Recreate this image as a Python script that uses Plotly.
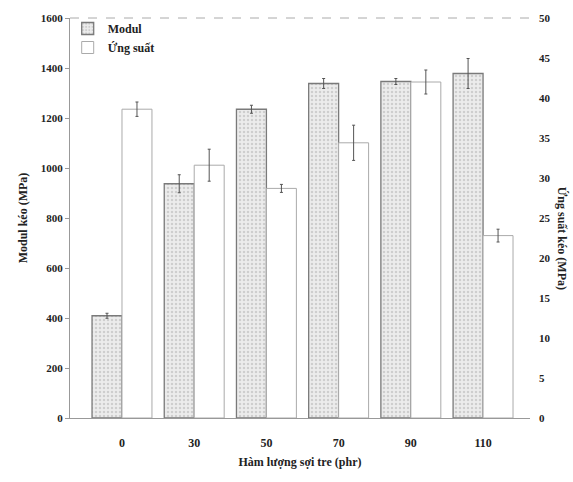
import plotly.graph_objects as go

categories = ["0", "30", "50", "70", "90", "110"]
modul = [409, 937, 1235, 1338, 1346, 1378]
modul_err = [10, 36, 16, 20, 12, 60]
ung_suat = [38.6, 31.6, 28.7, 34.4, 42.0, 22.8]
ung_suat_err = [0.9, 2.0, 0.5, 2.2, 1.5, 0.8]
left_ticks = [0, 200, 400, 600, 800, 1000, 1200, 1400, 1600]
right_ticks = [0, 5, 10, 15, 20, 25, 30, 35, 40, 45, 50]

FONT = "Liberation Serif"
BW = 0.415

fig = go.Figure()
fig.add_trace(go.Bar(
    x=categories, y=modul, name="Modul", yaxis="y",
    width=BW, offset=-BW,
    marker=dict(color="#ececec",
                pattern=dict(shape=".", fgcolor="#b0b0b0", bgcolor="#ececec", size=4, solidity=0.3),
                line=dict(color="#7a7a7a", width=1.3)),
    error_y=dict(type="data", array=modul_err, color="#555", thickness=1, width=1.5),
))
fig.add_trace(go.Bar(
    x=categories, y=ung_suat, name="Ứng suất", yaxis="y2",
    width=BW, offset=0,
    marker=dict(color="white", line=dict(color="#aaaaaa", width=1)),
    error_y=dict(type="data", array=ung_suat_err, color="#555", thickness=1, width=1.5),
))

fig.update_layout(
    width=573, height=482,
    margin=dict(l=70, r=43, t=15, b=64),
    plot_bgcolor="white", paper_bgcolor="white",
    font=dict(family=FONT, color="#222", size=11),
    showlegend=True,
    legend=dict(x=-0.005, y=1.01, xanchor="left", yanchor="top",
                bgcolor="rgba(0,0,0,0)",
                font=dict(family=FONT, size=12, color="#222", weight="bold"),
                tracegroupgap=2, itemwidth=30),
    xaxis=dict(type="category", range=[-0.72, 5.65], showline=True, linecolor="#999",
               linewidth=1, ticks="", ticklabelstandoff=14,
               tickfont=dict(family=FONT, size=12, color="#222", weight="bold"),
               title=dict(text="<b>Hàm lượng sợi tre (phr)</b>", standoff=8,
                          font=dict(family=FONT, size=12, color="#222"))),
    yaxis=dict(range=[0, 1600], tickvals=left_ticks, showgrid=False, zeroline=False,
               showline=True, linecolor="#999", linewidth=1, ticks="outside", ticklen=4,
               tickcolor="#999",
               tickfont=dict(family=FONT, size=11, color="#222", weight="bold"),
               title=dict(text="<b>Modul kéo (MPa)</b>", standoff=10,
                          font=dict(family=FONT, size=12, color="#222"))),
    yaxis2=dict(range=[0, 50], tickvals=right_ticks, overlaying="y", side="right",
                showgrid=False, zeroline=False, showline=False, ticks="",
                ticklabelstandoff=8,
                tickfont=dict(family=FONT, size=11, color="#222", weight="bold")),
    shapes=[dict(type="line", xref="paper", yref="paper", x0=0, x1=1, y0=1, y1=1,
                 line=dict(color="#aaa", width=1, dash="dash"))],
    annotations=[dict(text="<b>Ứng suất kéo (MPa)</b>", xref="paper", yref="paper",
                      x=1.07, y=0.45, textangle=90, showarrow=False,
                      xanchor="center", yanchor="middle",
                      font=dict(family=FONT, size=12, color="#222"))],
)

fig.write_html("out.html")
